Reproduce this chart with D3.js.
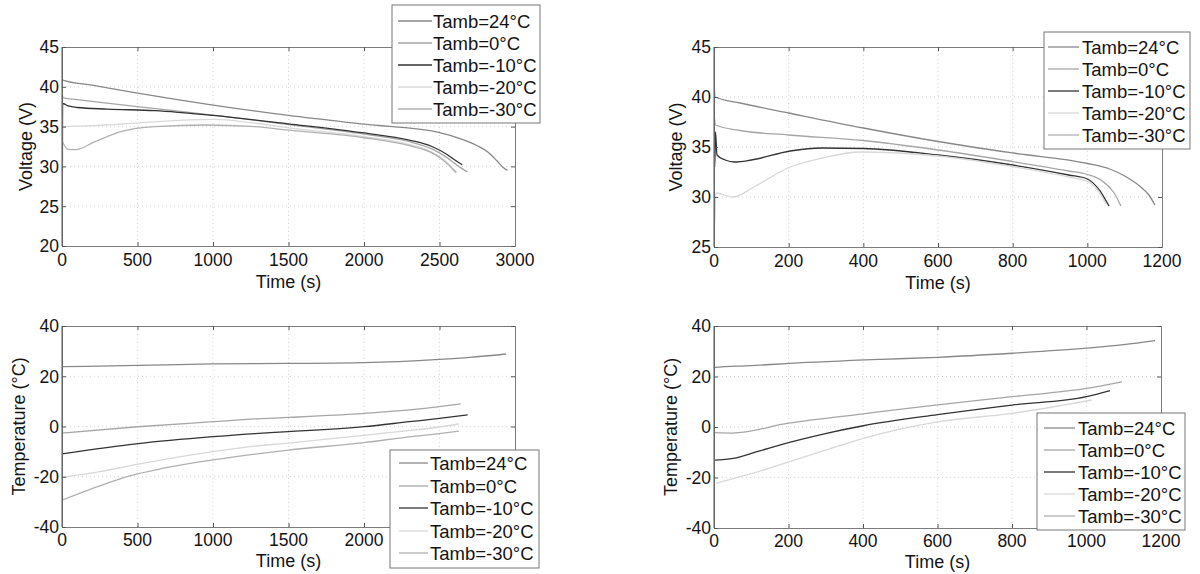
<!DOCTYPE html>
<html>
<head>
<meta charset="utf-8">
<script src="https://cdn.jsdelivr.net/npm/d3@7"></script>
<style>
    body { margin: 0; background: #fff; }
    svg text { font-family: "Liberation Sans", Arial, sans-serif; fill: #141414; }
</style>
</head>
<body>
<svg width="1200" height="574"></svg>
<script>
// ---- data ----
var legendNames = ["Tamb=24°C", "Tamb=0°C", "Tamb=-10°C", "Tamb=-20°C", "Tamb=-30°C"];
var lineColors = ["#888888", "#a6a6a6", "#333333", "#d8d8d8", "#b0b0b0"];

var xTicksLong = [0, 500, 1000, 1500, 2000, 2500, 3000];
var xTicksShort = [0, 200, 400, 600, 800, 1000, 1200];
var yTicksVoltA = [20, 25, 30, 35, 40, 45];
var yTicksVoltB = [25, 30, 35, 40, 45];
var yTicksTemp = [-40, -20, 0, 20, 40];

// top left: voltage, [time s, V]
var voltA_24 = [[0,41.3],[5,40.85],[200,40.2],[500,39.2],[1000,37.7],[1500,36.4],[2000,35.3],[2500,34.25],[2650,33.4],[2750,32.6],[2820,31.8],[2880,30.7],[2920,29.9],[2950,29.5]];
var voltA_0 = [[0,39.0],[10,38.6],[100,38.4],[500,37.5],[1000,36.45],[1500,35.25],[2000,34.05],[2300,33.1],[2450,32.2],[2550,31.1],[2620,30.1],[2686,29.3]];
var voltA_m10 = [[0,39.5],[1.5,23],[4,37.9],[40,37.6],[100,37.4],[300,37.2],[616,37.0],[1000,36.4],[1500,35.35],[2000,34.2],[2300,33.3],[2450,32.5],[2550,31.5],[2610,30.7],[2651,30.2]];
var voltA_m20 = [[0,35.0],[100,35.05],[300,35.2],[600,35.6],[1000,35.9],[1250,35.5],[1500,34.85],[2000,33.75],[2300,32.75],[2450,31.8],[2530,30.8],[2580,29.9],[2615,29.3]];
var voltA_m30 = [[0,33.2],[40,32.15],[90,32.1],[218,33.1],[395,34.4],[616,35.0],[950,35.2],[1280,35.0],[1500,34.55],[2000,33.6],[2300,32.6],[2450,31.7],[2530,30.7],[2580,29.8],[2610,29.2]];

// top right: voltage
var voltB_24 = [[0,42.0],[3,40.0],[70,39.4],[200,38.4],[400,36.9],[600,35.55],[800,34.4],[1000,33.35],[1060,32.8],[1100,32.1],[1140,31.1],[1165,30.2],[1181,29.2]];
var voltB_0 = [[0,38.6],[4,37.2],[70,36.65],[200,36.2],[400,35.65],[600,34.7],[800,33.55],[950,32.6],[1000,32.25],[1040,31.6],[1070,30.5],[1090,29.1]];
var voltB_m10 = [[0,41.0],[2,33.0],[4,36.5],[8,34.2],[30,33.7],[55,33.5],[100,33.7],[204,34.6],[290,34.9],[400,34.85],[600,34.2],[800,33.2],[950,32.2],[1000,31.8],[1030,30.8],[1058,29.1]];
var voltB_m20 = [[0,38.5],[2,27.3],[5,30.4],[52,30.0],[107,31.0],[204,33.0],[290,33.9],[391,34.5],[600,34.1],[800,33.05],[950,32.0],[1000,31.55],[1030,30.6],[1050,29.3]];
var voltB_m30 = [];

// bottom left: temperature, [time s, °C]
var tempC_24 = [[0,23.8],[500,24.3],[1000,24.9],[1500,25.1],[2000,25.4],[2500,26.7],[2700,27.5],[2940,28.85]];
var tempC_0 = [[0,-2.6],[500,-0.1],[1000,1.9],[1278,3.0],[1500,3.6],[2000,5.2],[2300,6.6],[2500,7.9],[2640,9.0]];
var tempC_m10 = [[0,-10.9],[505,-6.8],[1000,-4.05],[1278,-2.8],[1500,-2.05],[2000,-0.07],[2300,1.9],[2500,3.2],[2686,4.6]];
var tempC_m20 = [[0,-20.3],[250,-18.0],[505,-15.0],[1000,-10.0],[1278,-7.8],[1500,-6.6],[2000,-3.5],[2300,-1.6],[2500,-0.2],[2628,1.0]];
var tempC_m30 = [[0,-29.3],[174,-25.3],[395,-20.6],[726,-16.0],[1000,-13.3],[1278,-11.0],[1500,-9.4],[2000,-6.4],[2300,-4.1],[2500,-2.8],[2628,-1.8]];

// bottom right: temperature
var tempD_24 = [[0,20.5],[2,23.6],[100,24.3],[204,25.2],[450,26.8],[600,27.6],[800,29.2],[1000,31.2],[1100,32.6],[1184,34.2]];
var tempD_0 = [[0,-2.25],[50,-2.4],[200,1.5],[400,5.2],[600,8.8],[800,12.0],[1000,15.3],[1095,17.9]];
var tempD_m10 = [[0,-13.1],[52,-12.4],[115,-9.8],[200,-6.2],[293,-2.8],[401,0.5],[600,4.9],[800,8.7],[1000,12.0],[1063,14.4]];
var tempD_m20 = [[5,-22.3],[88,-19.0],[293,-9.5],[401,-4.5],[600,2.0],[800,5.4],[1014,10.7]];
var tempD_m30 = [];

// ---- layout ----
var panels = [
    {left: 62, right: 515, top: 47, bottom: 246, xDomain: [0, 3000], yDomain: [20, 45],
     xTicks: xTicksLong, yTicks: yTicksVoltA, yLabel: "Voltage (V)", yLabelX: 26,
     tickY: 266, titleY: 288,
     series: [voltA_24, voltA_0, voltA_m10, voltA_m20, voltA_m30],
     legend: {x: 392, y: 5, w: 148, h: 118, lineX0: 398, lineX1: 432, textX: 433, rows: [21, 43, 65, 87, 109]}},
    {left: 714, right: 1162, top: 47, bottom: 247, xDomain: [0, 1200], yDomain: [25, 45],
     xTicks: xTicksShort, yTicks: yTicksVoltB, yLabel: "Voltage (V)", yLabelX: 676,
     tickY: 267, titleY: 289,
     series: [voltB_24, voltB_0, voltB_m10, voltB_m20, voltB_m30],
     legend: {x: 1044, y: 32, w: 146, h: 117, lineX0: 1048, lineX1: 1079, textX: 1082, rows: [47, 69, 91, 113, 135]}},
    {left: 62, right: 515, top: 326, bottom: 527, xDomain: [0, 3000], yDomain: [-40, 40],
     xTicks: xTicksLong, yTicks: yTicksTemp, yLabel: "Temperature (°C)", yLabelX: 19,
     tickY: 546, titleY: 567,
     series: [tempC_24, tempC_0, tempC_m10, tempC_m20, tempC_m30],
     legend: {x: 390, y: 450, w: 149, h: 118, lineX0: 399, lineX1: 428, textX: 430, rows: [463, 486, 508, 531, 553]}},
    {left: 714, right: 1161, top: 326, bottom: 528, xDomain: [0, 1200], yDomain: [-40, 40],
     xTicks: xTicksShort, yTicks: yTicksTemp, yLabel: "Temperature (°C)", yLabelX: 671,
     tickY: 547, titleY: 568,
     series: [tempD_24, tempD_0, tempD_m10, tempD_m20, tempD_m30],
     legend: {x: 1037, y: 413, w: 148, h: 117, lineX0: 1044, lineX1: 1075, textX: 1078, rows: [428, 450, 472, 494, 516]}}
];

var svg = d3.select("svg");
var tickFont = 17.5;
var titleFont = 18;
var legendFont = 18.5;

panels.forEach(function(p, pi) {
    var xs = d3.scaleLinear().domain(p.xDomain).range([p.left, p.right]);
    var ys = d3.scaleLinear().domain(p.yDomain).range([p.bottom, p.top]);
    var g = svg.append("g");
    var L = p.legend;

    // dotted grid
    g.selectAll(".gx").data(p.xTicks.slice(1, -1)).enter().append("line")
        .attr("x1", function(d) { return xs(d); }).attr("x2", function(d) { return xs(d); })
        .attr("y1", p.top).attr("y2", p.bottom)
        .attr("stroke", "#d4d4d4").attr("stroke-dasharray", "1,3");
    g.selectAll(".gy").data(p.yTicks.slice(1, -1)).enter().append("line")
        .attr("y1", function(d) { return ys(d); }).attr("y2", function(d) { return ys(d); })
        .attr("x1", p.left).attr("x2", p.right)
        .attr("stroke", "#d4d4d4").attr("stroke-dasharray", "1,3");

    // curves
    var clipId = "clip" + pi;
    g.append("clipPath").attr("id", clipId).append("rect")
        .attr("x", p.left).attr("y", p.top - 1)
        .attr("width", p.right - p.left).attr("height", p.bottom - p.top + 2);
    var line = d3.line()
        .x(function(d) { return xs(d[0]); })
        .y(function(d) { return ys(d[1]); })
        .curve(d3.curveMonotoneX);
    var curves = g.append("g").attr("clip-path", "url(#" + clipId + ")");
    p.series.forEach(function(s, i) {
        if (s.length == 0) return;
        curves.append("path")
            .datum(s)
            .attr("d", line)
            .attr("fill", "none")
            .attr("stroke", lineColors[i])
            .attr("stroke-width", 1.3);
    });

    // axes (ticks inside, mirrored like matlab)
    var bottomAxis = d3.axisBottom(xs).tickValues(p.xTicks).tickSize(-4).tickFormat("");
    var topAxis = d3.axisTop(xs).tickValues(p.xTicks).tickSize(-4).tickFormat("");
    var leftAxis = d3.axisLeft(ys).tickValues(p.yTicks).tickSize(-4).tickFormat("");
    var rightAxis = d3.axisRight(ys).tickValues(p.yTicks).tickSize(-4).tickFormat("");
    [[bottomAxis, "translate(0," + p.bottom + ")"], [topAxis, "translate(0," + p.top + ")"],
     [leftAxis, "translate(" + p.left + ",0)"], [rightAxis, "translate(" + p.right + ",0)"]].forEach(function(a) {
        var ax = g.append("g").attr("transform", a[1]).call(a[0]);
        ax.selectAll("path").attr("stroke", "#7c7c7c");
        ax.selectAll("line").attr("stroke", "#555");
    });
    g.append("line").attr("x1", p.left).attr("x2", p.left).attr("y1", p.top).attr("y2", p.bottom)
        .attr("stroke", "#555");

    // tick labels (the ones under the legend box are hidden in the reference)
    var hidden = function(x, y) {
        return x > L.x - 10 && x < L.x + L.w + 10 && y > L.y && y < L.y + L.h + 8;
    };
    g.selectAll(".xl").data(p.xTicks.filter(function(d) { return !hidden(xs(d), p.tickY); }))
        .enter().append("text")
        .attr("x", function(d) { return xs(d); }).attr("y", p.tickY)
        .attr("text-anchor", "middle").style("font-size", tickFont + "px")
        .text(function(d) { return d; });
    g.selectAll(".yl").data(p.yTicks).enter().append("text")
        .attr("x", p.left - 3).attr("y", function(d) { return ys(d); })
        .attr("dy", "0.36em")
        .attr("text-anchor", "end").style("font-size", tickFont + "px")
        .text(function(d) { return d; });

    // axis titles
    g.append("text").attr("x", (p.left + p.right) / 2).attr("y", p.titleY)
        .attr("text-anchor", "middle").style("font-size", titleFont + "px").text("Time (s)");
    g.append("text")
        .attr("transform", "translate(" + p.yLabelX + "," + ((p.top + p.bottom) / 2) + ") rotate(-90)")
        .attr("dy", "0.36em")
        .attr("text-anchor", "middle").style("font-size", titleFont + "px").text(p.yLabel);

    // legend
    var lg = svg.append("g");
    lg.append("rect").attr("x", L.x).attr("y", L.y)
        .attr("width", L.w).attr("height", L.h)
        .attr("fill", "#fff").attr("stroke", "#777");
    legendNames.forEach(function(name, i) {
        var yy = L.rows[i];
        lg.append("line").attr("x1", L.lineX0).attr("x2", L.lineX1)
            .attr("y1", yy).attr("y2", yy)
            .attr("stroke", lineColors[i]).attr("stroke-width", 1.3);
        lg.append("text").attr("x", L.textX).attr("y", yy).attr("dy", "0.36em")
            .style("font-size", legendFont + "px").text(name);
    });
});
</script>
</body>
</html>
